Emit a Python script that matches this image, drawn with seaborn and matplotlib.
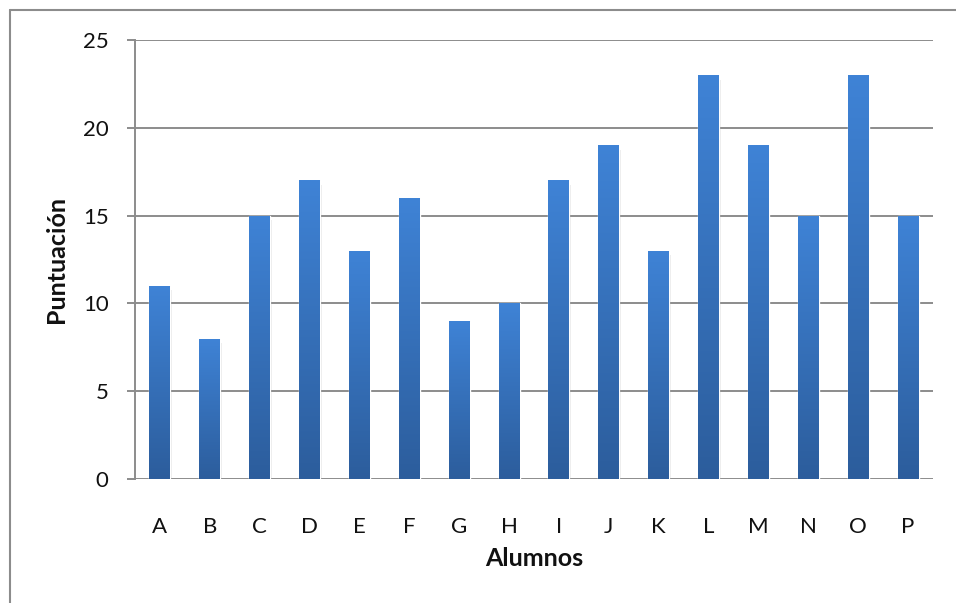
import matplotlib
matplotlib.use("Agg")
import matplotlib.pyplot as plt
from matplotlib.lines import Line2D
from matplotlib.colors import LinearSegmentedColormap
import numpy as np
import pandas as pd
import seaborn as sns

alumnos = ["A", "B", "C", "D", "E", "F", "G", "H", "I", "J", "K", "L", "M", "N", "O", "P"]
puntuacion = [11, 8, 15, 17, 13, 16, 9, 10, 17, 19, 13, 23, 19, 15, 23, 15]

df = pd.DataFrame({"Alumnos": alumnos, "Puntuacion": puntuacion})

sns.set_style("white")
plt.rcParams["font.family"] = ["Lato", "DejaVu Sans"]

W, H = 956, 603
fig = plt.figure(figsize=(W / 100, H / 100), dpi=100)
ax = fig.add_axes([135 / W, (H - 479) / H, (933 - 135) / W, (479 - 40) / H])

sns.barplot(data=df, x="Alumnos", y="Puntuacion", color="#3a75c4", width=0.42,
            saturation=1, ax=ax, zorder=3)

ax.set_ylim(0, 25)
ax.set_xlim(-0.5, len(alumnos) - 0.5)
ax.set_yticks([0, 5, 10, 15, 20, 25])
grid_c = "#8c8c8c"
ax.yaxis.grid(True, color=grid_c, linewidth=1.4, zorder=0)
ax.set_axisbelow(True)
for s in ["top", "right", "bottom"]:
    ax.spines[s].set_visible(False)
ax.spines["left"].set_color(grid_c)
ax.spines["left"].set_linewidth(1.4)
ax.tick_params(axis="y", which="both", left=True, length=6, width=1.4, color=grid_c,
               pad=13, labelsize=16, labelcolor="#111111")
ax.tick_params(axis="x", bottom=False, pad=24, labelsize=16, labelcolor="#111111")

ax.set_ylabel("Puntuación", fontsize=18, fontweight="bold", labelpad=11, color="#111111")
ax.set_xlabel("Alumnos", fontsize=18, fontweight="bold", labelpad=7, color="#111111")

# vertical gradient on the bars
cmap = LinearSegmentedColormap.from_list("bar", ["#2c5d9c", "#3f83d6"])
grad = np.linspace(0, 1, 256).reshape(-1, 1)
for p in ax.patches:
    x0, y0 = p.get_x(), p.get_y()
    w, h = p.get_width(), p.get_height()
    # soft shadow
    sh = plt.Rectangle((x0 + 0.03, y0 - 0.25), w, h, color="#000000", alpha=0.08,
                       zorder=2, linewidth=0)
    ax.add_patch(sh)
    im = ax.imshow(grad, extent=[x0, x0 + w, y0, y0 + h], origin="lower",
                   cmap=cmap, aspect="auto", zorder=4)
    im.set_clip_path(p)
ax.set_xlim(-0.5, len(alumnos) - 0.5)
ax.set_ylim(0, 25)

# outer chart frame (only left and top visible)
fig.add_artist(Line2D([9.5 / W, 9.5 / W], [0, 1 - 10 / H], color=grid_c, linewidth=1.5))
fig.add_artist(Line2D([9.5 / W, 1], [1 - 10 / H, 1 - 10 / H], color=grid_c, linewidth=1.5))

fig.savefig("out.png", dpi=100)
